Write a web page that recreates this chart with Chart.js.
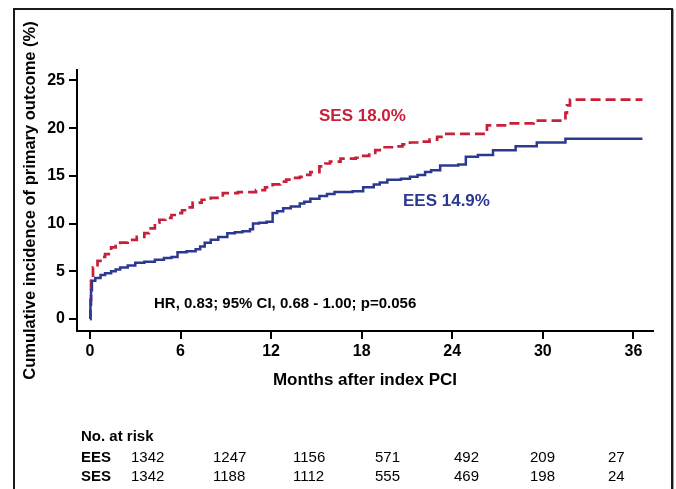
<!DOCTYPE html>
<html>
<head>
<meta charset="utf-8">
<script src="https://cdn.jsdelivr.net/npm/chart.js@4.4.1/dist/chart.umd.min.js"></script>
<style>
  html, body { margin: 0; padding: 0; background: #fff; }
  #wrap { position: relative; width: 676px; height: 489px; overflow: hidden; }
  #frame { position: absolute; left: 13px; top: 8px; width: 656px; height: 520px;
           border: 2px solid #1a1a1a; box-shadow: 1px 1px 0 #9a9a9a; }
  canvas { position: absolute; left: 0; top: 0; }
</style>
</head>
<body>
<div id="wrap">
  <div id="frame"></div>
  <canvas id="km" width="676" height="489"></canvas>
</div>
<script>
// months after index PCI / cumulative incidence (%)
const eesMonths = [0, 0.03, 0.07, 0.13, 0.35, 0.7, 1.0, 1.4, 1.7, 2.0, 2.5, 3.0, 3.6, 4.3, 4.9,
  5.4, 5.8, 6.4, 7.0, 7.3, 7.6, 8.0, 8.5, 9.1, 9.6, 10.1, 10.6, 10.8, 11.2, 11.7, 12.1, 12.4,
  12.8, 13.3, 13.9, 14.2, 14.6, 15.2, 15.7, 16.2, 17.4, 18.1, 18.8, 19.2, 19.7, 20.6, 21.2,
  21.7, 22.2, 22.6, 23.2, 24.4, 24.9, 25.7, 26.7, 28.2, 29.6, 31.5, 36.6];
const eesRate = [0, 1.5, 3.0, 4.0, 4.3, 4.6, 4.8, 5.0, 5.2, 5.4, 5.6, 5.9, 6.0, 6.2, 6.4,
  6.5, 7.0, 7.1, 7.3, 7.6, 8.0, 8.3, 8.6, 9.0, 9.1, 9.2, 9.4, 10.0, 10.1, 10.2, 11.1, 11.3,
  11.6, 11.8, 12.1, 12.3, 12.6, 12.9, 13.1, 13.3, 13.4, 13.8, 14.1, 14.3, 14.6, 14.7, 14.9,
  15.1, 15.4, 15.6, 16.1, 16.2, 17.0, 17.2, 17.7, 18.1, 18.5, 18.9, 18.9];

const sesMonths = [0, 0.03, 0.07, 0.2, 0.5, 0.8, 1.0, 1.4, 1.7, 2.0, 2.5, 3.1, 3.6, 3.9, 4.3,
  4.6, 5.0, 5.4, 5.8, 6.1, 6.4, 6.8, 7.4, 8.0, 8.8, 9.8, 11.0, 11.6, 12.1, 12.6, 13.0, 13.5,
  13.9, 14.3, 14.6, 15.2, 15.6, 15.9, 16.6, 17.6, 18.1, 18.5, 18.9, 19.2, 20.1, 20.7, 21.2,
  21.8, 22.5, 23.0, 23.4, 26.3, 27.6, 29.4, 31.5, 31.6, 31.8, 36.6];
const sesRate = [0, 2.0, 4.0, 5.4, 6.1, 6.5, 6.8, 7.5, 7.8, 8.0, 8.3, 8.6, 9.0, 9.5, 10.1,
  10.4, 10.6, 10.9, 11.1, 11.4, 11.7, 12.2, 12.5, 12.7, 13.2, 13.3, 13.5, 13.8, 14.1, 14.4, 14.6, 14.8,
  14.9, 15.1, 15.4, 16.0, 16.3, 16.5, 16.8, 16.9, 17.1, 17.4, 17.7, 18.0, 18.1, 18.3, 18.5,
  18.6, 18.8, 19.1, 19.4, 20.3, 20.5, 20.8, 21.6, 22.4, 23.0, 23.0];

const xTicks = [0, 6, 12, 18, 24, 30, 36];
const xTickLabels = ['0', '6', '12', '18', '24', '30', '36'];
const yTicks = [0, 5, 10, 15, 20, 25];
const yTickLabels = ['0', '5', '10', '15', '20', '25'];

const riskGroups = ['EES', 'SES'];
const eesAtRisk = [1342, 1247, 1156, 571, 492, 209, 27];
const sesAtRisk = [1342, 1188, 1112, 555, 469, 198, 24];

const sesLabel = 'SES 18.0%';
const eesLabel = 'EES 14.9%';
const hrText = 'HR, 0.83; 95% CI, 0.68 - 1.00; p=0.056';

const RED = '#C8203A';
const BLUE = '#2B3990';
const FONT = '"Liberation Sans", Arial, Helvetica, sans-serif';

// column starts of the at-risk table
const riskCols = [131, 213, 293, 375, 454, 530, 608];

function toPoints(xs, ys) {
    return xs.map((x, i) => ({ x, y: ys[i] }));
}

const overlayText = {
    id: 'overlayText',
    afterDraw(chart) {
        const ctx = chart.ctx;
        ctx.save();
        ctx.textBaseline = 'middle';
        ctx.textAlign = 'left';

        ctx.font = 'bold 17px ' + FONT;
        ctx.fillStyle = RED;
        ctx.fillText(sesLabel, 319, 116);
        ctx.fillStyle = BLUE;
        ctx.fillText(eesLabel, 403, 201);

        ctx.font = 'bold 15px ' + FONT;
        ctx.fillStyle = '#000';
        ctx.fillText(hrText, 154, 304);

        ctx.fillText('No. at risk', 81, 437);
        const rows = [eesAtRisk, sesAtRisk];
        const rowY = [458, 477];
        rows.forEach((row, r) => {
            ctx.font = 'bold 15px ' + FONT;
            ctx.fillText(riskGroups[r], 81, rowY[r]);
            ctx.font = '15px ' + FONT;
            row.forEach((n, i) => ctx.fillText(String(n), riskCols[i], rowY[r]));
        });
        ctx.restore();
    },
};

new Chart(document.getElementById('km').getContext('2d'), {
    type: 'line',
    data: {
        datasets: [
            {
                label: 'EES',
                data: toPoints(eesMonths, eesRate),
                borderColor: BLUE,
                borderWidth: 2.5,
                pointRadius: 0,
                stepped: true,
                fill: false,
            },
            {
                label: 'SES',
                data: toPoints(sesMonths, sesRate),
                borderColor: RED,
                borderWidth: 2.7,
                borderDash: [10, 5],
                pointRadius: 0,
                stepped: true,
                fill: false,
            },
        ],
    },
    options: {
        responsive: false,
        animation: false,
        layout: { padding: { left: 14, top: 70, right: 23, bottom: 98 } },
        plugins: { legend: { display: false }, tooltip: { enabled: false } },
        scales: {
            x: {
                type: 'linear',
                min: -0.86,
                max: 37.3,
                afterBuildTicks: (s) => { s.ticks = xTicks.map((v) => ({ value: v })); },
                afterFit: (s) => { s.height = 60; },
                ticks: {
                    callback: (v, i) => xTickLabels[i],
                    color: '#000',
                    padding: 3,
                    maxRotation: 0,
                    font: { family: FONT, size: 16, weight: 'bold' },
                },
                grid: { drawOnChartArea: false, drawTicks: true, tickLength: 8, color: '#000', lineWidth: 2 },
                border: { display: true, color: '#000', width: 2 },
                title: {
                    display: true,
                    text: 'Months after index PCI',
                    color: '#000',
                    padding: { top: 0, bottom: 0 },
                    font: { family: FONT, size: 17, weight: 'bold' },
                },
            },
            y: {
                type: 'linear',
                min: -1.26,
                max: 26.1,
                afterBuildTicks: (s) => { s.ticks = yTicks.map((v) => ({ value: v })); },
                afterFit: (s) => { s.width = 63; },
                ticks: {
                    callback: (v, i) => yTickLabels[i],
                    color: '#000',
                    padding: 4,
                    font: { family: FONT, size: 16, weight: 'bold' },
                },
                grid: { drawOnChartArea: false, drawTicks: true, tickLength: 8, color: '#000', lineWidth: 2 },
                border: { display: true, color: '#000', width: 2 },
                title: {
                    display: true,
                    text: 'Cumulative incidence of primary outcome (%)',
                    color: '#000',
                    padding: { top: 7, bottom: 0 },
                    font: { family: FONT, size: 16.5, weight: 'bold' },
                },
            },
        },
    },
    plugins: [overlayText],
});
</script>
</body>
</html>
